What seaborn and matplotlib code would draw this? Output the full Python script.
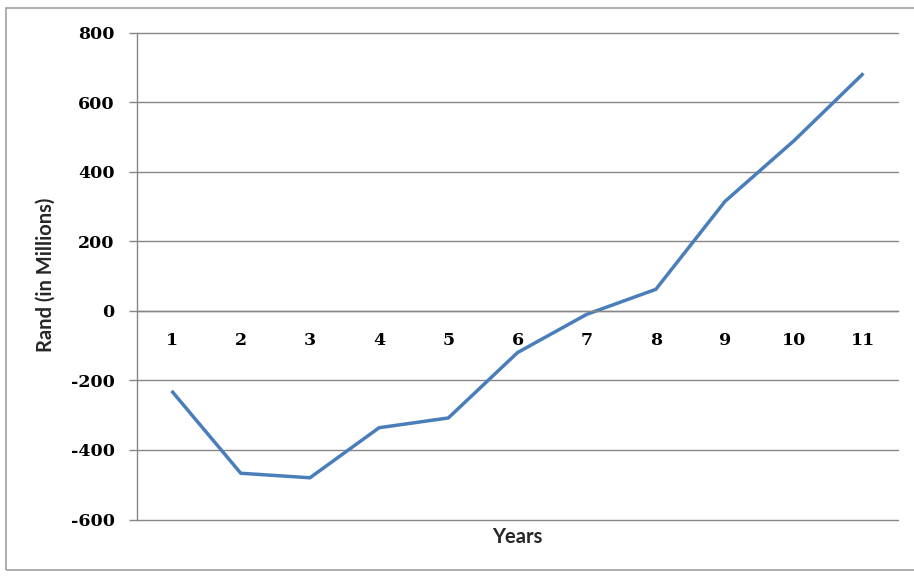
import matplotlib
matplotlib.use("Agg")
import matplotlib.pyplot as plt
import matplotlib.patches as mpatches
import seaborn as sns

# data
years = [1, 2, 3, 4, 5, 6, 7, 8, 9, 10, 11]
rand_millions = [-230, -467, -480, -336, -308, -120, -10, 62, 315, 490, 683]
y_ticks = [-600, -400, -200, 0, 200, 400, 600, 800]

sns.set_theme(style="white")
plt.rcParams['font.family'] = ['DejaVu Sans']
plt.rcParams['axes.unicode_minus'] = False

grid_col = '#868686'
line_col = '#4A7EBB'

fig = plt.figure(figsize=(9.14, 5.76), dpi=100)
ax = fig.add_axes([137 / 914, 1 - 519.5 / 576, (898 - 137) / 914, (519.5 - 32.7) / 576])

sns.lineplot(x=years, y=rand_millions, ax=ax, color=line_col, linewidth=2.5,
             solid_joinstyle='miter', solid_capstyle='butt')

ax.set_xlim(0.5, 11.5)
ax.set_ylim(-600, 800)

# horizontal gridlines
ax.set_yticks(y_ticks)
ax.set_yticklabels([str(v) for v in y_ticks], fontfamily='DejaVu Serif',
                   fontweight='bold', fontsize=12.5, color='black')
ax.yaxis.grid(True, color=grid_col, linewidth=1.0)
ax.xaxis.grid(False)
ax.set_axisbelow(True)
for gl in ax.get_ygridlines():
    gl.set_clip_on(False)

# category axis crosses at zero
for s in ['top', 'right']:
    ax.spines[s].set_visible(False)
ax.spines['bottom'].set_position(('data', 0))
ax.spines['bottom'].set_color(grid_col)
ax.spines['left'].set_color(grid_col)
ax.spines['bottom'].set_linewidth(1.0)
ax.spines['left'].set_linewidth(1.0)

ax.set_xticks(years)
ax.set_xticklabels([str(v) for v in years], fontfamily='DejaVu Serif',
                   fontweight='bold', fontsize=12.5, color='black')
ax.set_xticks([y + 0.5 for y in years], minor=True)
ax.tick_params(axis='x', which='major', length=0, pad=15)
ax.tick_params(axis='x', which='minor', direction='out', length=5, width=1, color=grid_col)
ax.tick_params(axis='y', which='major', direction='out', length=6, width=1, color=grid_col,
               left=True, pad=10)

ax.set_xlabel('')
ax.set_ylabel('')
fig.text(517 / 914, 1 - 537 / 576, 'Years', ha='center', va='center',
         fontfamily='Lato', fontweight='bold', fontsize=14.5)
fig.text(46 / 914, 1 - 275 / 576, 'Rand (in Millions)', ha='center', va='center',
         rotation=90, fontfamily='Lato', fontweight='bold', fontsize=14.5)

# chart area border
fig.patches.append(mpatches.Rectangle((6 / 914, 1 - 570 / 576), 1.0, (570 - 8) / 576,
                                      transform=fig.transFigure, fill=False,
                                      edgecolor='#a0a0a0', linewidth=1.2))

fig.savefig('out.png', dpi=100)
